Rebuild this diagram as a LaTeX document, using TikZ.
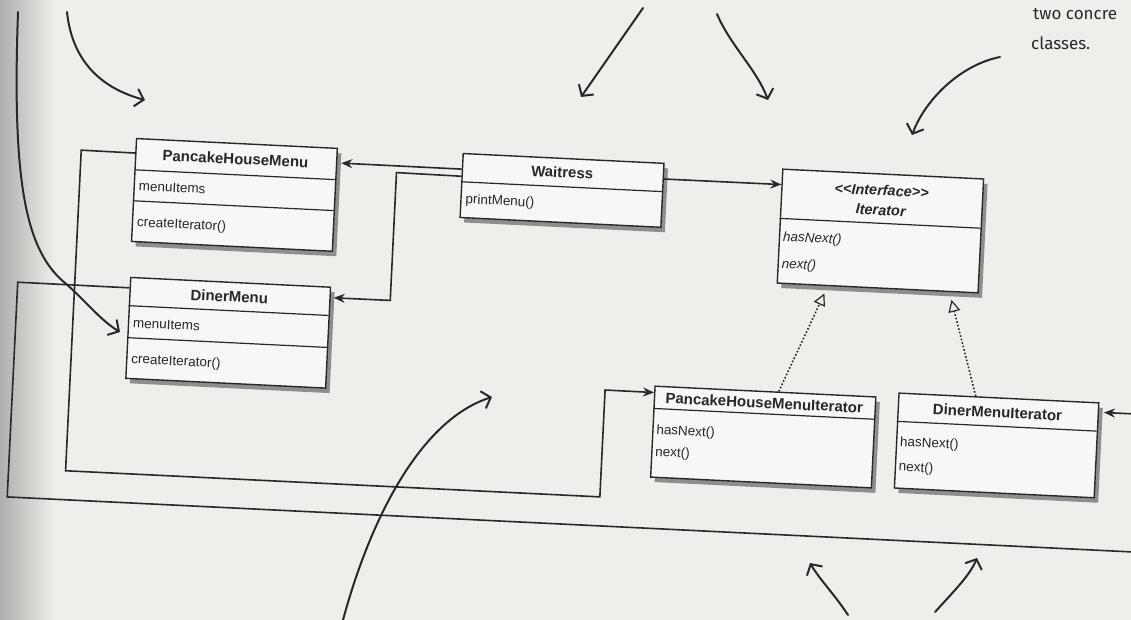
\documentclass[tikz,border=0pt]{standalone}
\usepackage{fontspec}
\setmainfont{Liberation Sans}
\newfontfamily\handfont{Fira Sans}
\usetikzlibrary{arrows.meta,calc,shadows}
\definecolor{bg}{RGB}{240,238,234}
\definecolor{gutter}{RGB}{175,175,173}
\definecolor{ink}{RGB}{40,40,40}
\definecolor{boxfill}{RGB}{247,247,245}
\begin{document}
\begin{tikzpicture}[x=1pt,y=-1pt,
  cls/.style={draw=ink, line width=1.4pt, fill=boxfill, inner sep=0pt, anchor=north west,
    drop shadow={shadow xshift=4pt, shadow yshift=-5pt, opacity=0.4, fill=black}},
  divider/.style={draw=ink, line width=1.2pt},
  hdr/.style={font=\bfseries\fontsize{15}{16}\selectfont, inner sep=0pt, text=ink},
  ihdr/.style={font=\bfseries\itshape\fontsize{14.5}{16}\selectfont, inner sep=0pt, text=ink},
  mem/.style={font=\fontsize{13.5}{15}\selectfont, inner sep=0pt, anchor=west, text=ink},
  imem/.style={font=\itshape\fontsize{13.5}{15}\selectfont, inner sep=0pt, anchor=west, text=ink},
  assoc/.style={draw=ink, line width=1.6pt, -{Stealth[length=11pt,width=9pt]}},
  real/.style={draw=ink, line width=1.6pt, dotted, -{Triangle[length=12pt,width=12pt,fill=bg,line width=1.2pt]}},
  hand/.style={draw=ink, line width=2pt, line cap=round, -{Straight Barb[length=8pt,width=18pt,line width=2pt]}},
  handtxt/.style={font=\handfont\fontsize{17}{19}\selectfont, inner sep=0pt, text=ink}
]
\useasboundingbox (0,0) rectangle (1131,620);
\clip (0,0) rectangle (1131,620);
\fill[bg] (0,0) rectangle (1131,620);
\shade[left color=gutter,right color=bg] (0,0) rectangle (55,620);

\begin{scope}[rotate around={-2.8:(565,310)}, transform shape]
  % class boxes
  \node[cls, minimum width=201pt, minimum height=103pt] (phm) at (128,159) {};
  \draw[divider] (128,191) -- (329,191);
  \draw[divider] (128,222) -- (329,222);
  \node[hdr] (phmH) at (228.5,175) {PancakeHouseMenu};
  \node[mem] (phmA) at (133,207) {menuItems};
  \node[mem] (phmM) at (133,244) {createIterator()};

  \node[cls, minimum width=200pt, minimum height=101pt] (dm) at (129,298) {};
  \draw[divider] (129,327) -- (329,327);
  \draw[divider] (129,359) -- (329,359);
  \node[hdr] (dmH) at (229,313) {DinerMenu};
  \node[mem] (dmA) at (134,344) {menuItems};
  \node[mem] (dmM) at (134,381) {createIterator()};

  \node[cls, minimum width=201pt, minimum height=64pt] (wait) at (455,158) {};
  \draw[divider] (455,187) -- (656,187);
  \node[hdr] (waitH) at (555.5,172.5) {Waitress};
  \node[mem] (waitM) at (460,205) {printMenu()};

  \node[cls, minimum width=201pt, minimum height=114pt] (iter) at (775,158) {};
  \draw[divider] (775,208) -- (976,208);
  \node[ihdr] (iterS) at (875.5,175) {<\kern0pt<Interface>\kern0pt>};
  \node[ihdr] (iterH) at (875.5,195) {Iterator};
  \node[imem] (iterM1) at (779,227) {hasNext()};
  \node[imem] (iterM2) at (779,254) {next()};

  \node[cls, minimum width=221pt, minimum height=91pt] (phmi) at (658,381) {};
  \draw[divider] (658,404) -- (879,404);
  \node[hdr] (phmiH) at (768.5,393) {PancakeHouseMenuIterator};
  \node[mem] (phmiM1) at (662,426) {hasNext()};
  \node[mem] (phmiM2) at (662,448) {next()};

  \node[cls, minimum width=200pt, minimum height=95pt] (dmi) at (902,376) {};
  \draw[divider] (902,405) -- (1102,405);
  \node[hdr] (dmiH) at (1002,391) {DinerMenuIterator};
  \node[mem] (dmiM1) at (906,426) {hasNext()};
  \node[mem] (dmiM2) at (906,451) {next()};

  % associations
  \draw[assoc, shorten >=4pt] ($(wait.north west)!0.25!(wait.south west)$) -- ($(phm.north east)!0.146!(phm.south east)$);
  \draw[assoc] ($(wait.north east)!0.25!(wait.south east)$) -- ($(iter.north west)!0.14!(iter.south west)$);

  \coordinate (b1) at (390,181);
  \coordinate (b2) at (390,309);
  \draw[assoc, shorten >=3pt] ($(wait.north west)!0.359!(wait.south west)$) -- (b1) -- (b2) -- ($(dm.north east)!0.109!(dm.south east)$);

  \coordinate (c1) at (74,174);
  \coordinate (c2) at (74,495);
  \coordinate (c3) at (609,495);
  \coordinate (c4) at (609,388);
  \draw[assoc] ($(phm.north west)!0.146!(phm.south west)$) -- (c1) -- (c2) -- (c3) -- (c4) -- ($(phmi.north west)!0.077!(phmi.south west)$);

  \coordinate (d1) at (17,309);
  \coordinate (d2) at (17,524);
  \coordinate (d3) at (1150,524);
  \coordinate (d4) at (1150,386);
  \draw[assoc, shorten >=5pt] ($(dm.north west)!0.109!(dm.south west)$) -- (d1) -- (d2) -- (d3) -- (d4) -- ($(dmi.north east)!0.105!(dmi.south east)$);

  % realizations
  \draw[real, shorten >=8pt] ($(phmi.north west)!0.56!(phmi.north east)$) -- ($(iter.south west)!0.254!(iter.south east)$);
  \draw[real, shorten >=8pt] ($(dmi.north west)!0.385!(dmi.north east)$) -- ($(iter.south west)!0.856!(iter.south east)$);
\end{scope}

% hand-drawn annotation arrows
\draw[hand] (18,12) .. controls (12,180) and (25,250) .. (65,283) .. controls (85,300) and (100,320) .. (120,332);
\draw[hand] (67,12) .. controls (72,60) and (100,88) .. (145,100);
\draw[hand] (643,8) -- (581,97);
\draw[hand] (717,14) .. controls (730,45) and (757,70) .. (768,100);
\draw[hand] (1000,57) .. controls (960,65) and (925,100) .. (912,135);
\draw[hand] (343,620) .. controls (370,520) and (420,420) .. (492,397);
\draw[hand] (848,615) .. controls (835,595) and (820,580) .. (810,563);
\draw[hand] (935,612) .. controls (955,590) and (970,575) .. (977,558);

\node[handtxt, anchor=base west] (note1) at (1033,20) {two concre};
\node[handtxt, anchor=base west] (note2) at (1031,50) {classes.};
\end{tikzpicture}
\end{document}
